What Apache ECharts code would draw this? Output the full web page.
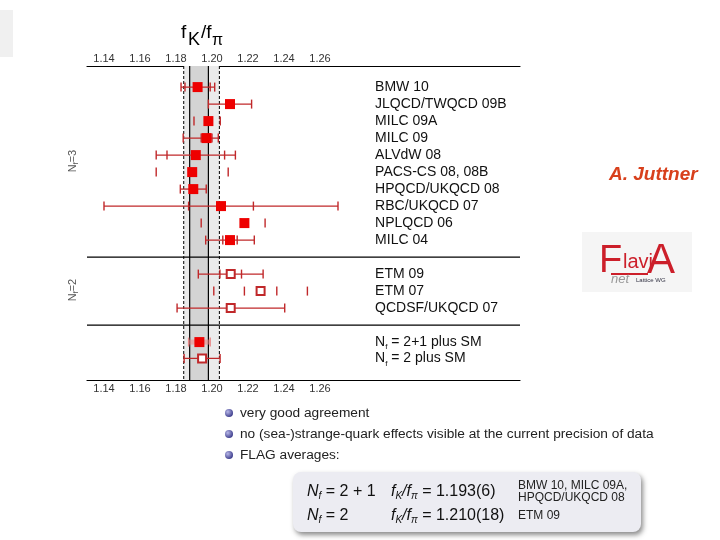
<!DOCTYPE html>
<html><head><meta charset="utf-8">
<script src="https://cdn.jsdelivr.net/npm/echarts@6/dist/echarts.min.js"></script>
<style>html,body{margin:0;padding:0;background:#fff}#c{width:720px;height:540px}</style>
</head><body><div id="c"></div><script>
// ---- data ----
const names = ['BMW 10','JLQCD/TWQCD 09B','MILC 09A','MILC 09','ALVdW 08','PACS-CS 08, 08B','HPQCD/UKQCD 08','RBC/UKQCD 07','NPLQCD 06','MILC 04','ETM 09','ETM 07','QCDSF/UKQCD 07','Nf = 2+1 plus SM','Nf = 2 plus SM'];
const rows    = [1.24,2.24,3.24,4.24,5.24,6.24,7.24,8.24,9.24,10.24,12.24,13.24,14.24,16.24,17.2];
const centers = [1.192,1.210,1.198,1.197,1.191,1.189,1.1896,1.205,1.218,1.210,1.2104,1.227,1.2104,1.193,1.1945];
const statErr = [0.007,0.012,0.002,0.003,0.016,0.020,0.0072,0.018,0.002,0.004,0.006,0.009,0,0.006,0.010];
const totLo   = [0.0092,0.012,0.008,0.013,0.022,0.020,0.0072,0.065,0.024,0.0135,0.018,0.026,0.0298,0.006,0.010];
const totHi   = [0.0095,0.012,0.0066,0.0065,0.022,0.020,0.0072,0.065,0.0115,0.0135,0.018,0.026,0.030,0.006,0.010];
const filled  = [1,1,1,1,1,1,1,1,1,1,0,0,0,1,0];
const tickLabels = [1.14,1.16,1.18,1.20,1.22,1.24,1.26];
const bandOuter = [1.1843,1.2041];
const bandInner = [1.1876,1.198];
const separators = [11.24,15.24];
const xRange = [1.13056,1.37111];
const yRange = [0,18.47];
const labelX = 1.2906;

// ---- styling ----
const ticksOnly = ['MILC 09A','PACS-CS 08, 08B','NPLQCD 06','ETM 07'];
const glowRows = ['Nf = 2+1 plus SM'];
const RED = '#ee0000', BAR = '#c0282a';
const FONT = 'Liberation Sans, Arial, sans-serif';

const data = names.map((n,i)=>[centers[i],rows[i],centers[i]-statErr[i],centers[i]+statErr[i],centers[i]-totLo[i],centers[i]+totHi[i],filled[i],i]);

function renderItem(params, api){
  const i = api.value(7);
  const name = names[i];
  const c = api.coord([api.value(0), api.value(1)]);
  const y = c[1];
  const xs = [2,3,4,5].map(k=>api.coord([api.value(k), api.value(1)])[0]);
  const ch = [];
  const glow = glowRows.includes(name);
  const lc = glow ? '#e88a8a' : BAR;
  if (!ticksOnly.includes(name)) {
    ch.push({type:'line', shape:{x1:xs[2],y1:y,x2:xs[3],y2:y}, style:{stroke: glow ? 'rgba(240,130,130,0.55)' : BAR, lineWidth: glow ? 5 : 1.3}});
  }
  const tk = (x,h)=>ch.push({type:'line', shape:{x1:x,y1:y-h,x2:x,y2:y+h}, style:{stroke:lc, lineWidth:1.4}});
  tk(xs[2],4.5); tk(xs[3],4.5);
  if (statErr[i] > 0 && Math.abs(xs[0]-xs[2])>2) tk(xs[0],4.5);
  if (statErr[i] > 0 && Math.abs(xs[1]-xs[3])>2) tk(xs[1],4.5);
  const s = 10;
  if (api.value(6) === 1) {
    ch.push({type:'rect', shape:{x:c[0]-s/2,y:y-s/2,width:s,height:s}, style:{fill:RED}});
  } else {
    ch.push({type:'rect', shape:{x:c[0]-s/2+1,y:y-s/2+1,width:s-2,height:s-2}, style:{fill:'#fff', stroke:BAR, lineWidth:2}});
  }
  const lx = api.coord([labelX, api.value(1)])[0];
  const txt = name.startsWith('Nf') ? '{n|N}{s|f}{n|' + name.slice(2) + '}' : '{n|' + name + '}';
  ch.push({type:'text', x:lx, y:y, style:{text:txt, verticalAlign:'middle', align:'left',
    rich:{n:{fontSize:14, fontFamily:FONT, fill:'#111'},
          s:{fontSize:8, fontFamily:FONT, fill:'#111', padding:[10,0,0,0]}}}});
  return {type:'group', children:ch};
}

// band / separator renderer: kind 0 = fill outer, 1 = fill inner, 2 = solid v-line, 3 = dashed v-line, 4 = horizontal separator
const bandData = [
  [bandOuter[0], bandOuter[1], 0],
  [bandInner[0], bandInner[1], 1],
  [bandInner[0], bandInner[0], 2],
  [bandInner[1], bandInner[1], 2],
  [bandOuter[0], bandOuter[0], 3],
  [bandOuter[1], bandOuter[1], 3],
  ...separators.map(v=>[v, v, 4])
];
function renderBand(params, api){
  const cs = params.coordSys;
  const kind = api.value(2);
  if (kind === 4) {
    const y = api.coord([xRange[0], api.value(0)])[1];
    return {type:'line', shape:{x1:cs.x, y1:y, x2:cs.x+cs.width, y2:y}, style:{stroke:'#000', lineWidth:1.2}};
  }
  const x1 = api.coord([api.value(0), yRange[0]])[0];
  const x2 = api.coord([api.value(1), yRange[0]])[0];
  if (kind < 2) {
    return {type:'rect', shape:{x:x1, y:cs.y, width:x2-x1, height:cs.height}, style:{fill: kind===0 ? '#ebebeb' : '#d4d4d4'}};
  }
  return {type:'line', shape:{x1:x1, y1:cs.y, x2:x1, y2:cs.y+cs.height}, style:{stroke:'#000', lineWidth: kind===2?1.2:1, lineDash: kind===3?[3,2]:null}};
}

const chart = echarts.init(document.getElementById('c'), null, {renderer:'canvas'});
const axisCommon = {
  type:'value', min:xRange[0], max:xRange[1],
  axisLine:{show:true, lineStyle:{color:'#000', width:1.2}},
  axisTick:{show:false}, splitLine:{show:false},
  axisLabel:{customValues:tickLabels, formatter:v=>v.toFixed(2), fontSize:11, fontFamily:FONT, color:'#333', margin:2}
};
const sub = (y, parts) => ({type:'text', x:parts.x, y:y, style:{text:parts.t, verticalAlign:'middle', rich:{
  i:{fontSize:16, fontStyle:'italic', fontFamily:FONT, fill:'#111'},
  s:{fontSize:10, fontStyle:'italic', fontFamily:FONT, fill:'#111', padding:[8,0,0,0]},
  n:{fontSize:16, fontFamily:FONT, fill:'#111'}}}});
chart.setOption({
  animation:false,
  grid:{left:87, right:200, top:66, bottom:160},
  xAxis:[Object.assign({position:'top'},axisCommon), Object.assign({position:'bottom'},axisCommon,{axisLabel:Object.assign({},axisCommon.axisLabel,{margin:3})})],
  yAxis:{type:'value', min:yRange[0], max:yRange[1], inverse:true, show:false},
  series:[
    {type:'custom', renderItem:renderBand, data:bandData, encode:{x:[0,1]}, clip:false, silent:true, z:1},
    {type:'custom', renderItem, data, encode:{x:0,y:1}, clip:false, z:5}
  ],
  graphic:[
    {type:'rect', shape:{x:0,y:10,width:13,height:47}, style:{fill:'#f0f0f0'}},
    {type:'text', x:181, y:32.5, style:{text:'f', fontSize:19, fontFamily:FONT, verticalAlign:'middle', fill:'#000'}},
    {type:'text', x:188, y:40.5, style:{text:'K', fontSize:18, fontFamily:FONT, verticalAlign:'middle', fill:'#000'}},
    {type:'text', x:201, y:32.5, style:{text:'/f', fontSize:19, fontFamily:FONT, verticalAlign:'middle', fill:'#000'}},
    {type:'text', x:212, y:40.5, style:{text:'π', fontSize:16, fontFamily:FONT, verticalAlign:'middle', fill:'#000'}},
    {type:'text', x:73, y:161, rotation:Math.PI/2, style:{text:'{n|N}{s|f}{n|=3}', align:'center', verticalAlign:'middle', rich:{n:{fontSize:11, fontFamily:FONT, fill:'#555'}, s:{fontSize:7, fontFamily:FONT, fill:'#555', padding:[6,0,0,0]}}}},
    {type:'text', x:73, y:290, rotation:Math.PI/2, style:{text:'{n|N}{s|f}{n|=2}', align:'center', verticalAlign:'middle', rich:{n:{fontSize:11, fontFamily:FONT, fill:'#555'}, s:{fontSize:7, fontFamily:FONT, fill:'#555', padding:[6,0,0,0]}}}},
    ...[413,434,455].map(y=>({type:'circle', shape:{cx:229,cy:y,r:4}, style:{fill:new echarts.graphic.RadialGradient(0.35,0.35,0.7,[{offset:0,color:'#b8b8e8'},{offset:1,color:'#3a3a8a'}])}})),
    {type:'text', x:240, y:413, style:{text:'very good agreement', fontSize:13.7, fontFamily:FONT, fill:'#222', verticalAlign:'middle'}},
    {type:'text', x:240, y:434, style:{text:'no (sea-)strange-quark effects visible at the current precision of data', fontSize:13.7, fontFamily:FONT, fill:'#222', verticalAlign:'middle'}},
    {type:'text', x:240, y:455, style:{text:'FLAG averages:', fontSize:13.7, fontFamily:FONT, fill:'#222', verticalAlign:'middle'}},
    {type:'rect', shape:{x:293,y:472,width:348,height:60,r:8}, style:{fill:'#ececf2', shadowBlur:5, shadowOffsetX:2, shadowOffsetY:3, shadowColor:'rgba(0,0,0,0.45)'}},
    sub(492, {x:307, t:'{i|N}{s|f}{n| = 2 + 1}'}),
    sub(516, {x:307, t:'{i|N}{s|f}{n| = 2}'}),
    sub(492, {x:391, t:'{i|f}{s|K}{i|/f}{s|π}{n| = 1.193(6)}'}),
    sub(516, {x:391, t:'{i|f}{s|K}{i|/f}{s|π}{n| = 1.210(18)}'}),
    {type:'text', x:518, y:486, style:{text:'BMW 10, MILC 09A,', fontSize:12, fontFamily:FONT, fill:'#222', verticalAlign:'middle'}},
    {type:'text', x:518, y:498, style:{text:'HPQCD/UKQCD 08', fontSize:12, fontFamily:FONT, fill:'#222', verticalAlign:'middle'}},
    {type:'text', x:518, y:516, style:{text:'ETM 09', fontSize:12, fontFamily:FONT, fill:'#222', verticalAlign:'middle'}},
    {type:'text', x:609, y:175, style:{text:'A. Juttner', fontSize:19, fontWeight:'bold', fontStyle:'italic', fontFamily:FONT, fill:'#d8401c', verticalAlign:'middle'}},
    {type:'rect', shape:{x:582,y:232,width:110,height:60}, style:{fill:'#f5f5f5'}},
    {type:'text', x:599, y:262, style:{text:'F', fontSize:38, fontFamily:FONT, fill:'#cc1f2a', verticalAlign:'middle'}},
    {type:'text', x:623, y:262, style:{text:'lavi', fontSize:20, fontFamily:FONT, fill:'#cc1f2a', verticalAlign:'middle'}},
    {type:'text', x:647, y:261, style:{text:'A', fontSize:42, fontFamily:FONT, fill:'#cc1f2a', verticalAlign:'middle'}},
    {type:'line', shape:{x1:611,y1:274,x2:648,y2:274}, style:{stroke:'#cc1f2a', lineWidth:2}},
    {type:'text', x:611, y:279, style:{text:'net', fontSize:13, fontStyle:'italic', fontFamily:FONT, fill:'#999', verticalAlign:'middle'}},
    {type:'text', x:636, y:280, style:{text:'Lattice WG', fontSize:6, fontFamily:FONT, fill:'#334', verticalAlign:'middle'}}
  ]
});
</script></body></html>
